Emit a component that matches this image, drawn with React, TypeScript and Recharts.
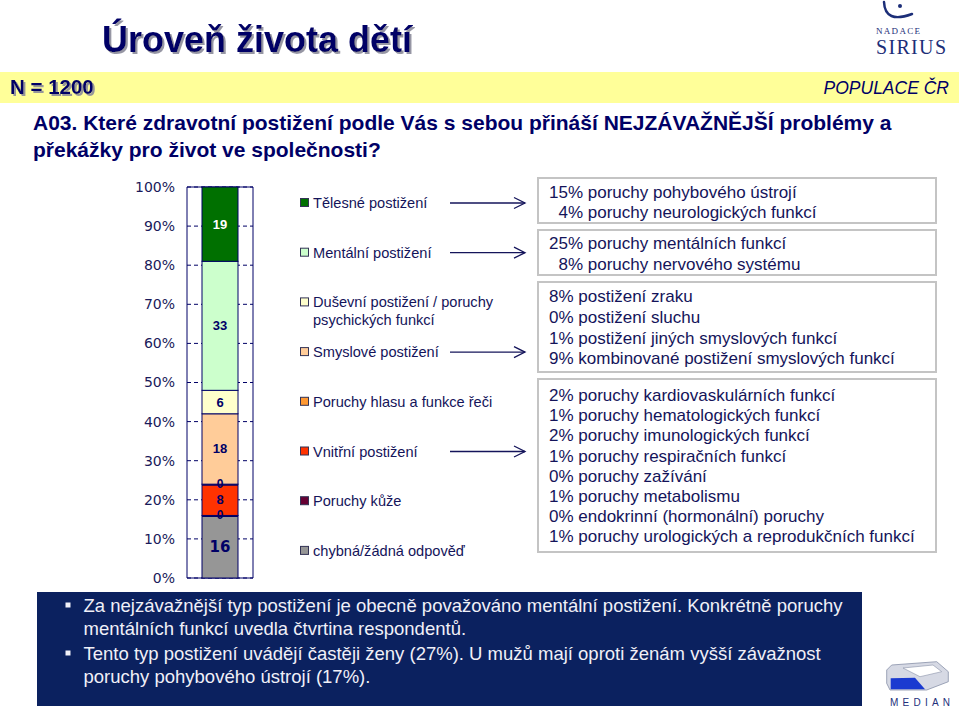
import React from 'react';
import { BarChart, Bar, XAxis, YAxis, CartesianGrid, LabelList, ReferenceArea } from 'recharts';

// ---------- data ----------
const CATEGORIES = ['A03'];
const SERIES_NAMES = [
  'Tělesné postižení',
  'Mentální postižení',
  'Duševní postižení / poruchy psychických funkcí',
  'Smyslové postižení',
  'Poruchy hlasu a funkce řeči',
  'Vnitřní postižení',
  'Poruchy kůže',
  'chybná/žádná odpověď',
];
const SERIES_VALUES = [19, 33, 6, 18, 0, 8, 0, 16];
const Y_TICKS = [0, 10, 20, 30, 40, 50, 60, 70, 80, 90, 100];

const DETAIL_BOX_1 = ['15% poruchy pohybového ústrojí', '  4% poruchy neurologických funkcí'];
const DETAIL_BOX_2 = ['25% poruchy mentálních funkcí', '  8% poruchy nervového systému'];
const DETAIL_BOX_3 = [
  '8% postižení zraku',
  '0% postižení sluchu',
  '1% postižení jiných smyslových funkcí',
  '9% kombinované postižení smyslových funkcí',
];
const DETAIL_BOX_4 = [
  '2% poruchy kardiovaskulárních funkcí',
  '1% poruchy hematologických funkcí',
  '2% poruchy imunologických funkcí',
  '1% poruchy respiračních funkcí',
  '0% poruchy zažívání',
  '1% poruchy metabolismu',
  '0% endokrinní (hormonální) poruchy',
  '1% poruchy urologických a reprodukčních funkcí',
];
const NOTES = [
  ['Za nejzávažnější typ postižení je obecně považováno mentální postižení. Konkrétně poruchy', 'mentálních funkcí uvedla čtvrtina respondentů.'],
  ['Tento typ postižení uvádějí častěji ženy (27%). U mužů mají oproti ženám vyšší závažnost', 'poruchy pohybového ústrojí (17%).'],
];
const TITLE = 'Úroveň života dětí';
const SAMPLE = 'N = 1200';
const POPULATION = 'POPULACE ČR';
const QUESTION = [
  'A03. Které zdravotní postižení podle Vás s sebou přináší NEJZÁVAŽNĚJŠÍ problémy a',
  'překážky pro život ve společnosti?',
];

// ---------- styles ----------
const SERIES_COLORS = ['#007000', '#ccffcc', '#ffffcc', '#ffcc99', '#ff9933', '#ff3300', '#660033', '#969696'];
const LABEL_FILL = ['#ffffff', '#000066', '#000066', '#000066', '#000066', '#000066', '#000066', '#000066'];
const LABEL_SIZE = [13, 13, 13, 13, 12, 13, 12, 15];
const LABEL_FONT = ['Liberation Sans', 'Liberation Sans', 'Liberation Sans', 'Liberation Sans', 'Liberation Sans', 'Liberation Sans', 'Liberation Sans', 'DejaVu Sans'];
const ARROW_FOR = [true, true, false, true, false, true, false, false];
const NAVY = '#000066';
const TXT = '#14145a';

const data = CATEGORIES.map((name) => {
  const row: any = { name };
  SERIES_VALUES.forEach((v, i) => (row['s' + i] = v));
  return row;
});

const BarShape = (props: any) => {
  const { x, y, width, height, fill } = props;
  const h = Math.abs(height || 0);
  if (h < 0.5) {
    return <line x1={x} x2={x + width} y1={y} y2={y} stroke={NAVY} strokeWidth={3} />;
  }
  return <rect x={x} y={Math.min(y, y + height)} width={width} height={h} fill={fill} stroke={NAVY} strokeWidth={1} />;
};

const makeLabel = (i: number) => (p: any) => {
  const { x, y, width, height, value } = p;
  return (
    <text
      x={x + width / 2}
      y={y + height / 2}
      textAnchor="middle"
      dominantBaseline="central"
      fill={LABEL_FILL[i]}
      fontSize={LABEL_SIZE[i]}
      fontWeight="bold"
      fontFamily={LABEL_FONT[i]}
    >
      {value}
    </text>
  );
};

const legendY = (i: number) => 203 + i * 49.7;

export default function App() {
  const order = SERIES_NAMES.map((_, i) => i).reverse();
  return (
    <div style={{ position: 'absolute', left: 0, top: 0, width: 959, height: 709, background: '#fff', overflow: 'hidden', fontFamily: 'Liberation Sans, Arial, sans-serif' }}>
      <svg width={959} height={709} style={{ position: 'absolute', left: 0, top: 0 }}>
        <defs>
          <filter id="tshadow" x="-5%" y="-20%" width="110%" height="150%">
            <feDropShadow dx={2} dy={2} stdDeviation={0.6} floodColor="#8a8a9a" floodOpacity={0.9} />
          </filter>
        </defs>
        {/* title */}
        <text x={102} y={52} fontSize={36} fontWeight="bold" fill={NAVY} filter="url(#tshadow)">{TITLE}</text>
        {/* yellow band */}
        <rect x={0} y={72} width={959} height={31} fill="#ffff99" />
        <text x={10} y={94} fontSize={20.5} fontWeight="bold" fill={NAVY} filter="url(#tshadow)">{SAMPLE}</text>
        <text x={949} y={94} fontSize={17.5} fontStyle="italic" textAnchor="end" fill={NAVY}>{POPULATION}</text>
        {/* question */}
        {QUESTION.map((q, i) => (
          <text key={i} x={33} y={130 + i * 27} fontSize={21} fontWeight="bold" fill={NAVY}>{q}</text>
        ))}
        {/* Nadace Sirius logo */}
        <path d="M884,2 Q885,24 912,14" stroke="#1c2e78" strokeWidth={2.5} fill="none" strokeLinecap="round" />
        <circle cx={900} cy={6} r={2} fill="#1c2e78" />
        <text x={876} y={34} fontSize={9} fontFamily="Liberation Serif, serif" fill="#1c2e78" textLength={44}>NADACE</text>
        <text x={876} y={54} fontSize={20} fontFamily="Liberation Serif, serif" fill="#1c2e78" textLength={70}>SIRIUS</text>
        {/* legend */}
        {SERIES_NAMES.map((name, i) => {
          const cy = legendY(i);
          const lines = i === 2 ? ['Duševní postižení / poruchy', 'psychických funkcí'] : [name];
          return (
            <g key={i}>
              <rect x={300.5} y={cy - 4.5} width={8} height={8} fill={SERIES_COLORS[i]} stroke="#333355" strokeWidth={1} />
              {lines.map((l, k) => (
                <text key={k} x={313} y={cy + 5 + k * 18} fontSize={14.6} fill={TXT}>{l}</text>
              ))}
              {ARROW_FOR[i] && (
                <g stroke={TXT} strokeWidth={1.3} fill="none">
                  <line x1={450} x2={525} y1={cy} y2={cy} />
                  <polyline points={`${514},${cy - 5.5} ${525},${cy} ${514},${cy + 5.5}`} />
                </g>
              )}
            </g>
          );
        })}
        {/* detail boxes */}
        {[
          { y: 178, h: 45, lines: DETAIL_BOX_1, b0: 197.5, step: 20.8 },
          { y: 230, h: 45, lines: DETAIL_BOX_2, b0: 249, step: 20.5 },
          { y: 282, h: 90, lines: DETAIL_BOX_3, b0: 302.3, step: 20.6 },
          { y: 379, h: 173, lines: DETAIL_BOX_4, b0: 401, step: 20.2 },
        ].map((b, i) => (
          <g key={i}>
            <rect x={538} y={b.y} width={398} height={b.h} fill="#fff" stroke="#c4c4c4" strokeWidth={2} />
            {b.lines.map((l, k) => (
              <text key={k} x={549} y={b.b0 + k * b.step} fontSize={17} fill={TXT} style={{ whiteSpace: 'pre' }}>{l}</text>
            ))}
          </g>
        ))}
        {/* notes box */}
        <rect x={37} y={592} width={825} height={114} fill="#0b215f" />
        {NOTES.map((lines, i) => (
          <g key={i}>
            <rect x={65.5} y={(i === 0 ? 612 : 660) - 9.5} width={5} height={5} fill="#f0f0f8" />
            {lines.map((l, k) => (
              <text key={k} x={83.5} y={(i === 0 ? 612 : 660) + k * 23} fontSize={18.5} fill="#f0f0f8">{l}</text>
            ))}
          </g>
        ))}
        {/* MEDIAN logo */}
        <polygon points="886.7,670 891.7,665 936.7,661.7 948.3,671.7 948.3,681.7 926.7,690 890,690 886.7,683.3" fill="#d6d9e4" stroke="#8890a8" strokeWidth={0.8} />
        <polygon points="903,668 933,665 941.7,671.7 920,676.7" fill="#ffffff" stroke="#8890a8" strokeWidth={0.6} />
        <polygon points="890.7,678.3 915,677.7 925,689.3 890.7,689.3" fill="#1a3ad0" />
        <text x={890} y={706} fontSize={10} fill="#23307a" textLength={60}>MEDIAN</text>
      </svg>

      <div style={{ position: 'absolute', left: 100, top: 177 }}>
        <BarChart width={163} height={411} data={data} margin={{ top: 10, right: 10, bottom: 10, left: 0 }} barCategoryGap={0}>
          <CartesianGrid vertical={false} stroke={NAVY} strokeDasharray="4 3" />
          <XAxis dataKey="name" hide />
          <YAxis
            domain={[0, 100]}
            ticks={Y_TICKS}
            interval={0}
            tickFormatter={(v: number) => `${v}%`}
            axisLine={false}
            tickLine={false}
            width={87}
            tickMargin={6}
            tick={{ fill: '#1a1a5a', fontSize: 14, fontFamily: 'DejaVu Sans' }}
          />
          <ReferenceArea y1={0} y2={100} fill="none" stroke={NAVY} strokeWidth={1} ifOverflow="visible" />
          {order.map((i) => (
            <Bar
              key={i}
              dataKey={'s' + i}
              name={SERIES_NAMES[i]}
              stackId="a"
              fill={SERIES_COLORS[i]}
              barSize={36}
              isAnimationActive={false}
              shape={BarShape}
            >
              <LabelList dataKey={'s' + i} content={makeLabel(i)} />
            </Bar>
          ))}
        </BarChart>
      </div>
    </div>
  );
}
